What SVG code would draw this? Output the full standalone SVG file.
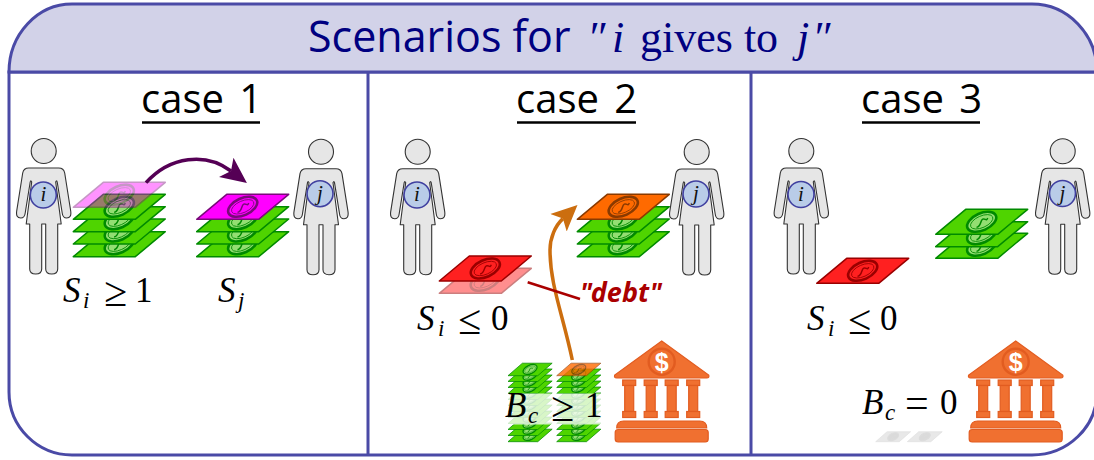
<svg xmlns="http://www.w3.org/2000/svg" width="1094" height="460" viewBox="0 0 1094 460">
<style>
.frame{fill:#fff;stroke:#4a4aa6;stroke-width:3}
.head{fill:#d2d2e8;stroke:#4a4aa6;stroke-width:3}
.rule{stroke:#4a4aa6;stroke-width:3;fill:none}
.title{font-family:"Open Sans","Noto Sans",sans-serif;font-size:43px;fill:#000080}
.ser{font-family:"Liberation Serif",serif;font-size:44px}
.ital{font-family:"Liberation Serif",serif;font-style:italic;font-size:44px}
.case{font-family:"Open Sans","Noto Sans",sans-serif;font-size:40px;fill:#000;word-spacing:5px}
.ul{stroke:#000;stroke-width:2.6}
.math{font-family:"Liberation Serif",serif;font-size:35px;fill:#000}
.m{font-style:italic}
.rel{font-size:42px}
.sub{font-size:23px;font-style:italic}
.debt{font-family:"Noto Sans",sans-serif;font-weight:700;font-style:italic;font-size:27px;fill:#aa0000}
.body{fill:#e6e6e6;stroke:#333;stroke-width:1.1;stroke-linejoin:round}
.badge{fill:#b9cce8;stroke:#4040a0;stroke-width:1.6}
.who{font-family:"Liberation Serif",serif;font-style:italic;font-size:21px;fill:#111;text-anchor:middle}
.green{fill:#4fd400;stroke:#008a00;color:#93de72}
.mag{fill:#ff00ff;stroke:#7a0a7a;color:#ff00ff}
.red{fill:#ff2020;stroke:#9a0000;color:#ff2020}
.org{fill:#ff6a00;stroke:#8a3a00;color:#ff6a00}
.ghost{fill:#e8e8e8;stroke:#dcdcdc;color:#dadada}
.pg{stroke-width:1.5;stroke-linejoin:round}
.o{fill:currentColor;stroke-width:2.6}
.o2{fill:none;stroke-width:.8}
.sq{fill:none;stroke-width:1.5}
.bk{fill:#f07030;stroke:#e25c20;stroke-width:1.2}
.dol{font-family:"Liberation Sans",sans-serif;font-weight:700;font-size:25px;fill:#fff;text-anchor:middle;stroke:none}
</style>
<defs>
<g id="bill">
<polygon class="pg" points="0,0 30,-25 92,-25 62,0"/>
<g transform="translate(46,-12.5) rotate(-24)">
<ellipse class="o" rx="15.5" ry="8.5"/>
<ellipse class="o2" rx="12" ry="5.8"/>
<path class="sq" d="M-7,3 C-2,4 -1,-2 2,-2 C5,-2 4,2 7,-1"/>
</g>
</g>
<g id="person">
<circle class="body" cx="0" cy="0" r="12.5"/>
<path class="body" d="M-15,17 H15 Q20,17 21,22 L27,60 Q28,67 23,67 Q19,67 18.5,62 L13.5,31 Q13,28.5 12,31 L17.5,73 H14 V118 Q14,123 8,123 Q2,123 2,118 V73 H-2 V118 Q-2,123 -8,123 Q-14,123 -14,118 V73 H-17.5 L-12,31 Q-13,28.5 -13.5,31 L-18.5,62 Q-19,67 -23,67 Q-28,67 -27,60 L-21,22 Q-20,17 -15,17 Z"/>
</g>
<g id="bank">
<path class="bk" d="M0,0 L47,34 Q48,37 45,37 H-45 Q-48,37 -47,34 Z"/>
<circle cx="0" cy="20.7" r="13" fill="none" stroke="#e25c20" stroke-width="2.4"/>
<text class="dol" x="0" y="29.5">$</text>
<rect class="bk" x="-39" y="39" width="13" height="5.5"/><rect class="bk" x="-37" y="44.5" width="9" height="26"/><rect class="bk" x="-39" y="70.5" width="13" height="6"/>
<rect class="bk" x="-17.5" y="39" width="13" height="5.5"/><rect class="bk" x="-15.5" y="44.5" width="9" height="26"/><rect class="bk" x="-17.5" y="70.5" width="13" height="6"/>
<rect class="bk" x="3.5" y="39" width="13" height="5.5"/><rect class="bk" x="5.5" y="44.5" width="9" height="26"/><rect class="bk" x="3.5" y="70.5" width="13" height="6"/>
<rect class="bk" x="25" y="39" width="13" height="5.5"/><rect class="bk" x="27" y="44.5" width="9" height="26"/><rect class="bk" x="25" y="70.5" width="13" height="6"/>
<path class="bk" d="M-45,87 Q-45,80 -38,80 H38 Q45,80 45,87 Z"/>
<rect class="bk" x="-46.5" y="88.5" width="93" height="12.5" rx="3"/>
</g>
<marker id="ap" markerUnits="userSpaceOnUse" markerWidth="30" markerHeight="26" refX="6" refY="13" orient="auto"><polygon points="0,1 26,13 0,25 6,13" fill="#550055"/></marker>
<marker id="ao" markerUnits="userSpaceOnUse" markerWidth="30" markerHeight="26" refX="6" refY="13" orient="auto"><polygon points="0,1 26,13 0,25 6,13" fill="#cc6e0f"/></marker>
</defs>

<g id="frame">
<path class="frame" d="M9,72 V392 A63,63 0 0 0 72,455 H1032 A65,63 0 0 0 1097,392 V72 Z"/>
<path class="head" d="M9,72 A63,68 0 0 1 72,4 H1032 A65,68 0 0 1 1097,72 Z"/>
<path class="rule" d="M368,72 V455 M751,72 V455"/>
<text class="title" y="52"><tspan x="308">Scenarios for</tspan><tspan class="ital" x="587">″</tspan><tspan class="ital" x="612">i</tspan><tspan class="ser" x="640">gives to</tspan><tspan class="ital" x="797">j</tspan><tspan class="ital" x="812">″</tspan></text>
</g>

<g id="case1">
<text class="case" x="141" y="113">case 1</text><line class="ul" x1="142" y1="122.5" x2="260" y2="122.5"/>
<g id="p1i"><use href="#person" x="43.7" y="151"/><circle class="badge" cx="43.3" cy="195" r="13"/><text class="who" x="43.3" y="201">i</text></g>
<g id="s1i" class="green">
<use href="#bill" x="73.3" y="256.7"/><use href="#bill" x="73.3" y="244"/><use href="#bill" x="73.3" y="231.7"/><use href="#bill" x="73.3" y="219.3"/>
<use class="mag" href="#bill" x="73.3" y="207.3" opacity=".42"/>
</g>
<g id="s1j" class="green">
<use href="#bill" x="196.7" y="256.7"/><use href="#bill" x="196.7" y="244"/><use href="#bill" x="196.7" y="231.7"/>
<use class="mag" href="#bill" x="196.7" y="219.3"/>
</g>
<g id="p1j"><use href="#person" x="321" y="151.7"/><circle class="badge" cx="320" cy="193.7" r="13"/><text class="who" x="320" y="200">j</text></g>
<text class="math" y="302"><tspan class="m" x="63">S</tspan><tspan class="sub" x="83" dy="6">i</tspan><tspan class="rel" x="104" dy="-2">≥</tspan><tspan x="135" dy="-4">1</tspan></text>
<text class="math" y="302"><tspan class="m" x="218">S</tspan><tspan class="sub" x="238" dy="6">j</tspan></text>
</g>

<g id="case2">
<text class="case" x="516" y="113">case 2</text><line class="ul" x1="517" y1="122.5" x2="636" y2="122.5"/>
<g id="p2i"><use href="#person" x="417.7" y="151.7"/><circle class="badge" cx="417" cy="195" r="13"/><text class="who" x="417" y="201">i</text></g>
<g id="p2j"><use href="#person" x="696.7" y="152"/><circle class="badge" cx="696" cy="194" r="13"/><text class="who" x="696" y="200">j</text></g>
<g id="s2i">
<use class="red" href="#bill" x="439.3" y="293.3" opacity=".5"/>
<use class="red" href="#bill" x="439.3" y="281"/>
</g>
<g id="s2j" class="green">
<use href="#bill" x="577.3" y="256.7"/><use href="#bill" x="577.3" y="244"/><use href="#bill" x="577.3" y="231.7"/>
<use class="org" href="#bill" x="577.3" y="219.3"/>
</g>
<text class="math" y="330"><tspan class="m" x="417">S</tspan><tspan class="sub" x="438" dy="6">i</tspan><tspan class="rel" x="458" dy="-2">≤</tspan><tspan x="491" dy="-4">0</tspan></text>
<text class="debt" x="580" y="302" textLength="82">"debt"</text>
<g id="reserve" class="green">
<g transform="translate(508,0) scale(.48,.5)">
<use href="#bill" y="883.4"/><use href="#bill" y="871"/><use href="#bill" y="859"/><use href="#bill" y="847"/><use href="#bill" y="835"/><use href="#bill" y="823"/><use href="#bill" y="811"/><use href="#bill" y="799"/><use href="#bill" y="787"/><use href="#bill" y="775"/><use href="#bill" y="763"/><use href="#bill" y="751.4"/>
</g>
<g transform="translate(556.7,0) scale(.48,.5)">
<use href="#bill" y="883.4"/><use href="#bill" y="871"/><use href="#bill" y="859"/><use href="#bill" y="847"/><use href="#bill" y="835"/><use href="#bill" y="823"/><use href="#bill" y="811"/><use href="#bill" y="799"/><use href="#bill" y="787"/><use href="#bill" y="775"/><use href="#bill" y="763"/>
<use class="org" href="#bill" y="751.4" opacity=".8"/>
</g>
<rect x="508" y="393.5" width="95" height="31" fill="#fff" stroke="none" opacity=".78"/>
</g>
<text class="math" y="417"><tspan class="m" x="505">B</tspan><tspan class="sub" x="528" dy="6">c</tspan><tspan class="rel" x="551" dy="-2">≥</tspan><tspan x="585" dy="-4">1</tspan></text>
<g id="bank2"><use href="#bank" x="661.7" y="341"/></g>
</g>

<g id="case3">
<text class="case" x="861" y="113">case 3</text><line class="ul" x1="862" y1="122.5" x2="980" y2="122.5"/>
<g id="p3i"><use href="#person" x="801.3" y="151"/><circle class="badge" cx="801" cy="194.5" r="13"/><text class="who" x="801" y="200.5">i</text></g>
<g id="p3j"><use href="#person" x="1062.7" y="151.3"/><circle class="badge" cx="1062.5" cy="193.5" r="13"/><text class="who" x="1062.5" y="199.5">j</text></g>
<g id="s3i"><use class="red" href="#bill" x="816.7" y="283.3"/></g>
<g id="s3j" class="green"><use href="#bill" x="935.7" y="258.3"/><use href="#bill" x="935.7" y="246.7"/><use href="#bill" x="935.7" y="234.3"/></g>
<text class="math" y="330"><tspan class="m" x="807">S</tspan><tspan class="sub" x="828" dy="6">i</tspan><tspan class="rel" x="848" dy="-2">≤</tspan><tspan x="880" dy="-4">0</tspan></text>
<text class="math" y="414"><tspan class="m" x="862">B</tspan><tspan class="sub" x="885" dy="6">c</tspan><tspan class="rel" x="905" dy="-3">=</tspan><tspan x="940" dy="-3">0</tspan></text>
<g id="ghost" class="ghost"><g transform="translate(875.7,441.7) scale(.38,.4)"><use href="#bill"/></g><g transform="translate(907.3,441.7) scale(.38,.4)"><use href="#bill"/></g></g>
<g id="bank3"><use href="#bank" x="1015.7" y="341"/></g>
</g>

<g id="connectors" fill="none">
<path d="M146,182.7 C170,156 206,152 231,171" stroke="#550055" stroke-width="3.5" marker-end="url(#ap)"/>
<path d="M572.3,360 C563,315 550,285 550,250 C550,238 555,226 562.9,218.6" stroke="#cc6e0f" stroke-width="3.5" marker-end="url(#ao)"/>
<line x1="527.7" y1="282.3" x2="580" y2="299" stroke="#aa0000" stroke-width="2.5"/>
</g>
</svg>
